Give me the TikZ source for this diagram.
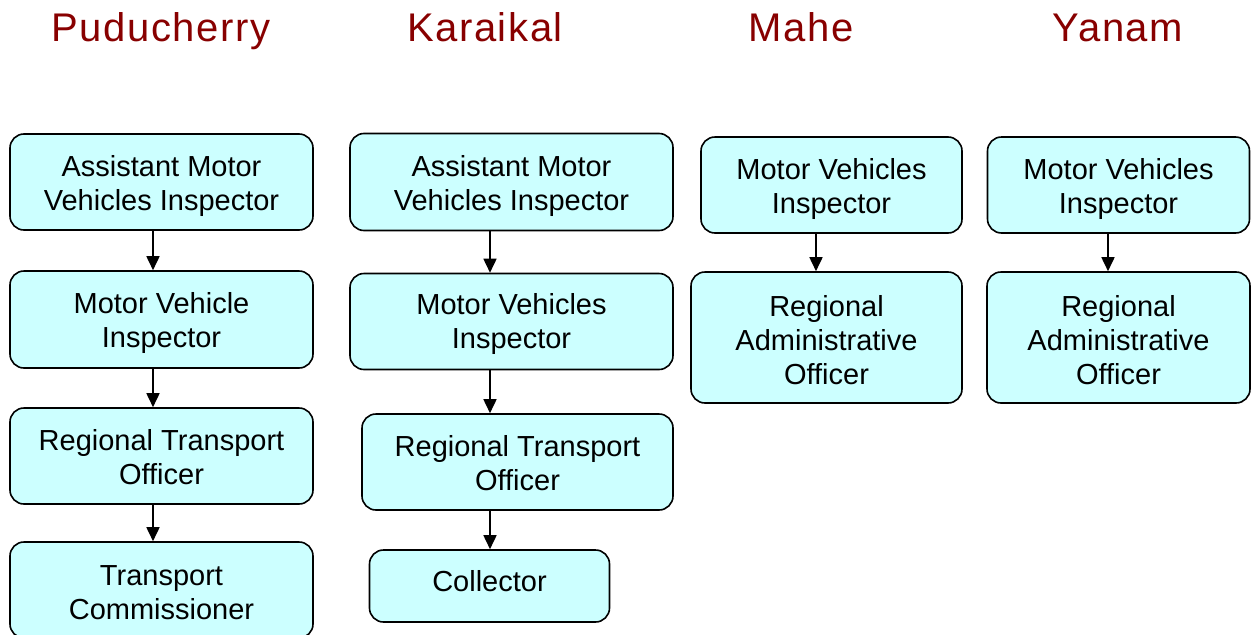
\documentclass[tikz,border=0pt]{standalone}
\usepackage{fontspec}
\setmainfont{Liberation Sans}
\usetikzlibrary{arrows.meta}
\definecolor{boxfill}{HTML}{CCFFFF}
\definecolor{headred}{HTML}{880000}
\tikzset{
  box/.style={draw=black, fill=boxfill, line width=1.6pt, rounded corners=14pt,
    inner sep=0pt, align=center, font=\fontsize{29}{34}\selectfont},
  tdn/.style={execute at begin node={\rule{0pt}{#1pt}}},
  tup/.style={execute at end node={\rule[-#1pt]{0pt}{#1pt}}},
  head/.style={text=headred, inner sep=0pt, anchor=base,
    font=\fontsize{40}{48}\selectfont\addfontfeature{LetterSpace=4}},
  arr/.style={line width=1.7pt, -{Triangle[width=13pt,length=14pt]}}
}
\begin{document}
\begin{tikzpicture}[x=1pt,y=-1pt]
\useasboundingbox (0,0) rectangle (1254,635);
\begin{scope}
\clip (0,0) rectangle (1254,635);
% headers
\node[head] (hp) at (161,41) {Puducherry};
\node[head] (hk) at (485,41) {Karaikal};
\node[head] (hm) at (801,41) {Mahe};
\node[head] (hy) at (1118,41) {Yanam};
% Puducherry
\node[box, tdn=63, minimum width=303pt, minimum height=96pt] (p1) at (161.5,182) {Assistant Motor\\Vehicles Inspector};
\node[box, tdn=63, minimum width=303pt, minimum height=97pt] (p2) at (161.5,319.5) {Motor Vehicle\\Inspector};
\node[box, tdn=57, minimum width=303pt, minimum height=96pt] (p3) at (161.5,456) {Regional Transport\\Officer};
\node[box, tdn=59, minimum width=303pt, minimum height=96pt] (p4) at (161.5,590) {Transport\\Commissioner};
\draw[arr] (p1.south -| 153,0) -- (p2.north -| 153,0);
\draw[arr] (p2.south -| 153,0) -- (p3.north -| 153,0);
\draw[arr] (p3.south -| 153,0) -- (p4.north -| 153,0);
% Karaikal
\node[box, tdn=63, minimum width=323pt, minimum height=97pt] (k1) at (511.5,182) {Assistant Motor\\Vehicles Inspector};
\node[box, tdn=61, minimum width=323pt, minimum height=96pt] (k2) at (511.5,321.5) {Motor Vehicles\\Inspector};
\node[box, tdn=57, minimum width=311pt, minimum height=96pt] (k3) at (517.5,462) {Regional Transport\\Officer};
\node[box, tup=10, minimum width=240pt, minimum height=72pt] (k4) at (489.5,586) {Collector};
\draw[arr] (k1.south -| 490,0) -- (k2.north -| 490,0);
\draw[arr] (k2.south -| 490,0) -- (k3.north -| 490,0);
\draw[arr] (k3.south -| 490,0) -- (k4.north -| 490,0);
% Mahe
\node[box, tdn=64, minimum width=261pt, minimum height=96pt] (m1) at (831.5,185) {Motor Vehicles\\Inspector};
\node[box, tdn=95, minimum width=271pt, minimum height=131pt] (m2) at (826.5,337.5) {Regional\\Administrative\\Officer};
\draw[arr] (m1.south -| 816,0) -- (m2.north -| 816,0);
% Yanam
\node[box, tdn=64, minimum width=262pt, minimum height=96pt] (y1) at (1118.5,185) {Motor Vehicles\\Inspector};
\node[box, tdn=95, minimum width=263pt, minimum height=131pt] (y2) at (1118.5,337.5) {Regional\\Administrative\\Officer};
\draw[arr] (y1.south -| 1108,0) -- (y2.north -| 1108,0);
\end{scope}
\end{tikzpicture}
\end{document}
